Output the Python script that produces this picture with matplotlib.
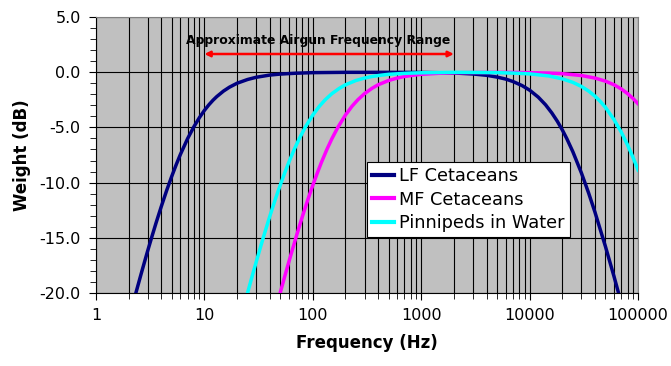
import matplotlib.pyplot as plt
from matplotlib.ticker import FixedLocator, LogLocator, NullFormatter, FuncFormatter

# values
lf_freq = [2.3, 2.6, 2.8, 3, 3.3, 3.6, 4, 4.5, 5, 5.5, 6, 7, 8, 9, 10, 11, 12, 13, 15, 17, 20, 25, 30, 40, 50, 70,
           100, 200, 500, 1000, 2000, 3000, 4000, 5000, 6000, 7000, 8500, 10000, 12000, 14000, 16000, 18000,
           20000, 22000, 25000, 30000, 35000, 40000, 50000, 60000, 70000]
lf_db = [-20.23, -18.33, -17.21, -16.18, -14.81, -13.59, -12.18, -10.68, -9.43, -8.37, -7.46, -6.02, -4.94, -4.11,
         -3.46, -2.95, -2.54, -2.21, -1.71, -1.36, -1.00, -0.66, -0.46, -0.26, -0.17, -0.09,
         -0.04, -0.01, -0.01, -0.02, -0.07, -0.16, -0.28, -0.44, -0.62, -0.84, -1.21, -1.63, -2.26, -2.95, -3.69, -4.45,
         -5.23, -6.02, -7.20, -9.13, -10.96, -12.68, -15.80, -18.52, -20.93]

mf_freq = [50, 55, 60, 70, 80, 90, 100, 110, 120, 135, 150, 170, 200, 230, 260, 300, 350, 400, 500, 600, 700, 850,
           1000, 1500, 2000, 3000, 5000, 7000, 10000, 15000, 20000, 30000, 40000, 50000, 60000, 70000, 80000,
           90000, 100000]
mf_db = [-20.00, -18.52, -17.21, -14.95, -13.09, -11.54, -10.24, -9.13, -8.17, -6.98, -6.02, -5.00, -3.88, -3.08,
         -2.50, -1.94, -1.47, -1.14, -0.75, -0.53, -0.39, -0.27, -0.19, -0.09, -0.05, -0.03, -0.02, -0.02,
         -0.04, -0.08, -0.13, -0.30, -0.53, -0.81, -1.14, -1.52, -1.94, -2.39, -2.86]

pw_freq = [25, 27.5, 30, 35, 40, 45, 50, 55, 60, 67.5, 75, 85, 100, 115, 130, 150, 175, 200, 250, 300, 350, 425,
           500, 750, 1000, 2000, 3000, 5000, 7000, 10000, 15000, 20000, 25000, 30000, 35000, 40000, 45000,
           50000, 60000, 70000, 80000, 90000, 100000]
pw_db = [-20.00, -18.52, -17.21, -14.95, -13.09, -11.54, -10.24, -9.13, -8.17, -6.98, -6.02, -5.00, -3.88, -3.08,
         -2.50, -1.94, -1.47, -1.14, -0.75, -0.53, -0.39, -0.27, -0.19, -0.09, -0.05, -0.01, -0.02, -0.04,
         -0.08, -0.15, -0.34, -0.60, -0.92, -1.29, -1.71, -2.17, -2.67, -3.19, -4.30, -5.44, -6.60, -7.75, -8.87]

airgun_range = [10, 2000]

fig = plt.figure(figsize=(6.71, 3.66), dpi=100)
ax = fig.add_axes([0.143, 0.1995, 0.808, 0.754])
ax.set_facecolor('#C0C0C0')

ax.plot(lf_freq, lf_db, color='#000080', lw=2.5, label='LF Cetaceans', zorder=3)
ax.plot(mf_freq, mf_db, color='#FF00FF', lw=2.5, label='MF Cetaceans', zorder=3)
ax.plot(pw_freq, pw_db, color='#00FFFF', lw=2.5, label='Pinnipeds in Water', zorder=3)

ax.set_xscale('log')
ax.set_xlim(1, 100000)
ax.set_ylim(-20, 5)

ax.xaxis.set_major_locator(FixedLocator([1, 10, 100, 1000, 10000, 100000]))
ax.xaxis.set_major_formatter(FuncFormatter(lambda v, p: '%d' % round(v)))
ax.xaxis.set_minor_locator(LogLocator(base=10, subs=range(2, 10), numticks=20))
ax.xaxis.set_minor_formatter(NullFormatter())
ax.set_yticks([5, 0, -5, -10, -15, -20])
ax.yaxis.set_major_formatter(FuncFormatter(lambda v, p: '%.1f' % v))
ax.set_yticks(range(-20, 6), minor=True)

ax.grid(True, which='both', axis='x', color='black', lw=0.8, zorder=1)
ax.grid(True, which='major', axis='y', color='black', lw=0.8, zorder=1)
ax.set_axisbelow(True)

ax.tick_params(axis='both', which='major', labelsize=11.5, direction='out', length=5, color='black', pad=6)
ax.tick_params(axis='both', which='minor', direction='out', length=4, color='black')
for s in ['top', 'right']:
    ax.spines[s].set_color('#808080')
for s in ['left', 'bottom']:
    ax.spines[s].set_color('black')

ax.set_xlabel('Frequency (Hz)', fontsize=12, fontweight='bold', labelpad=8)
ax.set_ylabel('Weight (dB)', fontsize=12, fontweight='bold', labelpad=6)

# airgun range arrow
ax.annotate('', xy=(airgun_range[0], 1.65), xytext=(airgun_range[1], 1.65),
            arrowprops=dict(arrowstyle='<|-|>', color='red', lw=1.8, mutation_scale=8,
                            shrinkA=0, shrinkB=0), zorder=4)
ax.text(112, 2.85, 'Approximate Airgun Frequency Range', ha='center', va='center',
        fontsize=8.9, fontweight='bold', zorder=4)

leg = ax.legend(loc='upper left', bbox_to_anchor=(0.5, 0.475), borderaxespad=0,
                fancybox=False, framealpha=1, edgecolor='black', fontsize=12.8,
                handlelength=1.2, handletextpad=0.3, borderpad=0.3, labelspacing=0.3)
leg.get_frame().set_linewidth(0.8)
for line in leg.get_lines():
    line.set_linewidth(3)
leg.set_zorder(5)

fig.savefig('out.png', dpi=100)
